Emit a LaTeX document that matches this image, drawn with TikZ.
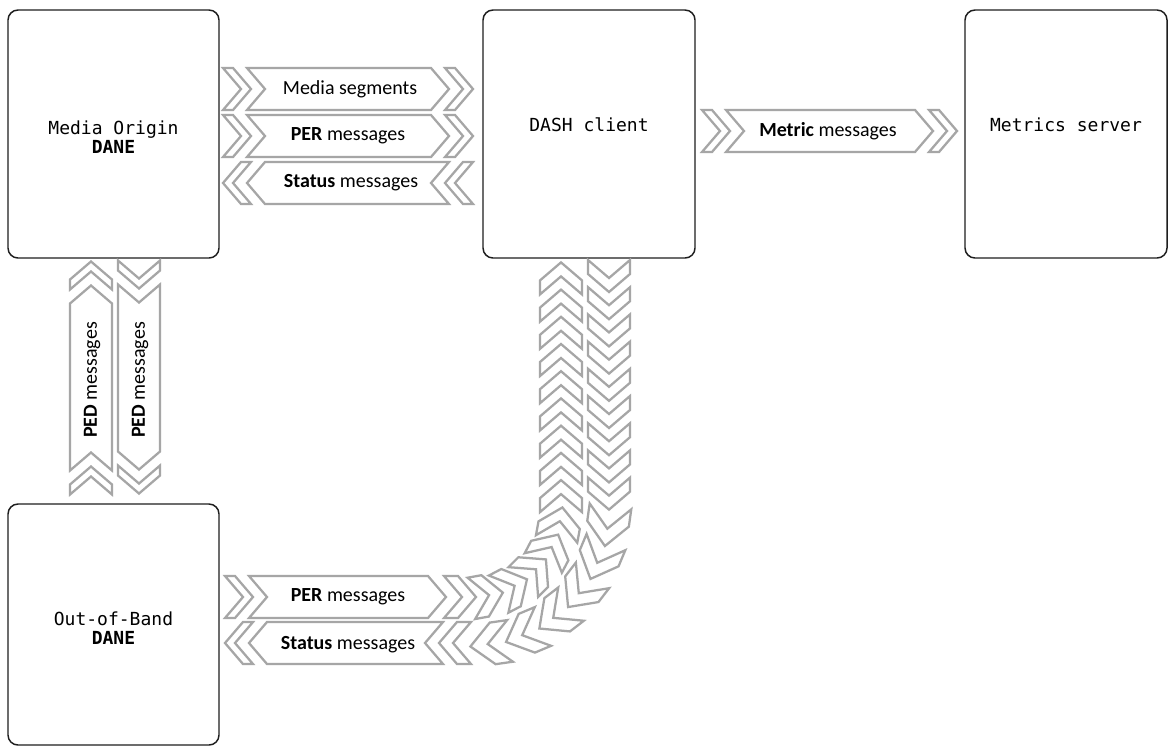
\documentclass[tikz,border=0pt]{standalone}
\usepackage{fontspec}
\setmainfont{Carlito}
\setmonofont{DejaVu Sans Mono}
\definecolor{chevgray}{RGB}{166,166,166}
\definecolor{boxline}{RGB}{30,30,30}
\tikzset{
  chev/.style={draw=chevgray, line width=1.7pt, fill=white, line join=miter},
  boxst/.style={draw=boxline, line width=1.1pt, rounded corners=7.5pt, inner sep=0pt, fill=white},
  boxlbl/.style={font=\fontsize{13.5}{14.5}\selectfont\ttfamily, align=center, inner sep=0pt},
  arrlbl/.style={font=\fontsize{15}{18}\selectfont, inner sep=0pt},
}
% straight chevron arrow: x, y, rotation, half length
\newcommand{\fullarrow}[4]{%
  \begin{scope}[shift={(#1,#2)},rotate=#3]
    \draw[chev] (-#4,21) -- (-#4+10,21) -- (-#4+28,0) -- (-#4+10,-21) -- (-#4,-21) -- (-#4+18,0) -- cycle;
    \draw[chev] (-#4+24,21) -- (#4-42,21) -- (#4-24,0) -- (#4-42,-21) -- (-#4+24,-21) -- (-#4+42,0) -- cycle;
    \draw[chev] (#4-28,21) -- (#4-18,21) -- (#4,0) -- (#4-18,-21) -- (#4-28,-21) -- (#4-10,0) -- cycle;
  \end{scope}}
% single chain chevron: x, y, rotation, xscale
\newcommand{\chainch}[4]{%
  \begin{scope}[shift={(#1,#2)},rotate=#3,xscale=#4]
    \draw[chev] (-16,21) -- (-2,21) -- (16,0) -- (-2,-21) -- (-16,-21) -- (2,0) -- cycle;
  \end{scope}}
\begin{document}
\begin{tikzpicture}[x=0.75pt,y=-0.75pt]
\useasboundingbox (0,0) rectangle (1170,747);
\fill[white] (0,0) rectangle (1170,747);

% boxes
\node[boxst, minimum width=158.25pt, minimum height=186pt] (mo) at (113.5,134) {};
\node[boxst, minimum width=159pt, minimum height=186pt] (dash) at (589,134) {};
\node[boxst, minimum width=151.5pt, minimum height=186pt] (ms) at (1066,134) {};
\node[boxst, minimum width=158.25pt, minimum height=180.75pt] (ob) at (113.5,624.5) {};

\node[boxlbl] (molbl) at (113.5,137) {Media Origin\\\textbf{DANE}};
\node[boxlbl] (dashlbl) at (589,125) {DASH client};
\node[boxlbl] (mslbl) at (1066,125) {Metrics server};
\node[boxlbl] (oblbl) at (113.5,628) {Out-of-Band\\\textbf{DANE}};

% top arrows between Media Origin and DASH client
\fullarrow{348}{89}{0}{125}
\fullarrow{348}{136}{0}{125}
\fullarrow{348}{183}{180}{125}
% metric arrow
\fullarrow{829.5}{131}{0}{127.5}
% PED arrows
\fullarrow{91}{378}{90}{116.5}
\fullarrow{139}{377}{-90}{116.5}

% bottom PER arrow (to DASH client, curved chain)
\draw[chev] (225,576) -- (235,576) -- (253,597) -- (235,618) -- (225,618) -- (243,597) -- cycle;
\draw[chev] (249,576) -- (428,576) -- (446,597) -- (428,618) -- (249,618) -- (267,597) -- cycle;
\chainch{460}{597}{0}{1}
\chainch{487.1}{595.5}{10.32}{1}
\chainch{512.8}{586.7}{27.65}{1}
\chainch{534.6}{570.7}{44.97}{1}
\chainch{550.7}{548.8}{62.30}{1}
\chainch{559.5}{523.2}{79.62}{1}
\foreach \yy in {496.1,468.9,441.7,414.4,387.2,360.0,332.8,305.6,278.4}
  {\chainch{561}{\yy}{90}{1}}

% Status arrow (from DASH client, curved chain)
\foreach \yy in {276,303.2,330.4,357.6,384.8,412,439.2,466.4,493.6}
  {\chainch{609}{\yy}{-90}{1}}
\chainch{607.7}{526.2}{262}{1.25}
\chainch{598.2}{560.5}{247.2}{1.25}
\chainch{580.3}{591.2}{232.4}{1.25}
\chainch{555.2}{616.3}{217.6}{1.25}
\chainch{524.5}{634.2}{202.8}{1.25}
\chainch{490.2}{643.7}{188}{1.25}
\chainch{455}{643}{180}{1}
\draw[chev] (225,643) -- (243,622) -- (253,622) -- (235,643) -- (253,664) -- (243,664) -- cycle;
\draw[chev] (249,643) -- (267,622) -- (443,622) -- (425,643) -- (443,664) -- (267,664) -- cycle;

% arrow labels
\node[arrlbl] (l1) at (350,89) {Media segments};
\node[arrlbl] (l2) at (348,136) {\textbf{PER} messages};
\node[arrlbl] (l3) at (351,183) {\textbf{Status} messages};
\node[arrlbl] (l4) at (828,131) {\textbf{Metric} messages};
\node[arrlbl, rotate=90] (l5) at (92,380) {\textbf{PED} messages};
\node[arrlbl, rotate=90] (l6) at (140,380) {\textbf{PED} messages};
\node[arrlbl] (l7) at (348,597) {\textbf{PER} messages};
\node[arrlbl] (l8) at (348,645) {\textbf{Status} messages};
\end{tikzpicture}
\end{document}
